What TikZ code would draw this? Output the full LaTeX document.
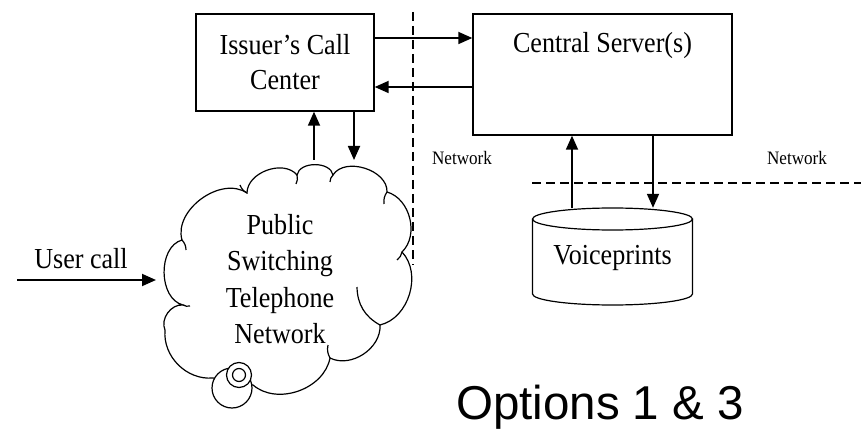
\documentclass[tikz,border=0pt]{standalone}
\usepackage{fontspec}
\setmainfont{Liberation Serif}[FakeStretch=0.9]
\setsansfont{Liberation Sans}
\usetikzlibrary{arrows.meta, calc}

\begin{document}
\begin{tikzpicture}[x=1pt, y=-1pt,
  box/.style={draw, line width=1.4pt, inner sep=0pt},
  arr/.style={line width=1.8pt, -{Triangle[length=14pt, width=12pt]}},
  netline/.style={line width=1.8pt, dash pattern=on 9pt off 5pt},
  lbl/.style={font=\fontsize{29}{35}\selectfont, align=center, inner sep=0pt},
  small/.style={font=\fontsize{19}{20}\selectfont, inner sep=0pt},
  outline/.style={line width=1.2pt}]

  % --- FRAME ---
  \useasboundingbox (0,0) rectangle (861,430);

  % --- BOXES ---
  \node[box, minimum width=178pt, minimum height=97pt] (issuer) at (285,62.5) {};
  \node[lbl] (issuertxt) at (issuer.center) {Issuer’s Call\\Center};

  \node[box, minimum width=259pt, minimum height=121pt] (server) at (602.5,74.5) {};
  \node[lbl] (servertxt) at (602.5,46) {Central Server(s)};

  % --- DATABASE ---
  \node[minimum width=160pt, minimum height=97pt, inner sep=0pt] (voice) at (612.5,256.5) {};
  \draw[outline] (532.5,219) -- (532.5,294)
    arc[start angle=180, end angle=0, x radius=80, y radius=11] -- (692.5,219);
  \draw[outline] (612.5,219) ellipse [x radius=80, y radius=11];
  \node[lbl] (voicetxt) at (612.5,258) {Voiceprints};

  % --- CLOUD (PSTN) ---
  \draw[outline, fill=white]
    (183,305) to[bend left=75] (182,240) to[bend left=70] (247,193)
    to[bend left=70] (297,175) to[bend left=80] (333,175)
    to[bend left=75] (387,192) to[bend left=60] (402,252)
    to[bend left=60] (380,325) to[bend left=60] (330,358)
    to[bend left=60] (253,385) -- (213,378)
    to[bend left=50] (165,330) to[bend left=60] cycle;
  % little tails of the puffs
  \draw[outline] (247,193) to[bend left=20] (240,185);
  \draw[outline] (297,175) to[bend left=20] (296,184);
  \draw[outline] (333,175) to[bend right=20] (330,182);
  \draw[outline] (387,192) to[bend right=20] (384,204);
  \draw[outline] (402,252) to[bend left=20] (397,260);
  \draw[outline] (380,325) to[bend left=30] (357,287);
  \draw[outline] (330,358) to[bend left=20] (328,345);
  \draw[outline] (183,305) to[bend right=20] (190,306);
  \draw[outline] (182,240) to[bend left=20] (186,250);
  % small bubble with the handset ring
  \draw[outline, fill=white] (232,388) circle (20);
  \draw[outline, fill=white] (239,375) circle (12.5);
  \draw[outline] (239,375) circle (6.5);
  \node[lbl, font=\fontsize{29}{36.5}\selectfont] (pstn) at (280,279) {Public\\Switching\\Telephone\\Network};

  % anchor points on the cloud
  \coordinate (pstnUp) at (314,160);
  \coordinate (pstnDn) at (354,160);
  \coordinate (pstnW) at (156,280);
  \coordinate (user) at (17,280);

  % --- USER CALL ---
  \node[lbl] (usertxt) at (81,259) {User call};
  \draw[arr] (user) -- (pstnW);

  % --- CONNECTIONS ---
  \draw[arr] ([yshift=24.5pt]issuer.east) -- ([yshift=24.5pt]issuer.east -| server.west);
  \draw[arr] ([yshift=-24.5pt]issuer.east -| server.west) -- ([yshift=-24.5pt]issuer.east);
  \draw[arr] (pstnUp) -- (pstnUp |- issuer.south);
  \draw[arr] (pstnDn |- issuer.south) -- (pstnDn);
  \draw[arr] ([xshift=-40.5pt]voice.north) -- ([xshift=-30.5pt]server.south);
  \draw[arr] ([xshift=50.5pt]server.south) -- ([xshift=40.5pt]voice.north);

  % --- NETWORK BOUNDARIES ---
  \coordinate (vtop) at (413,12);
  \coordinate (vbot) at (413,265);
  \coordinate (hleft) at (532,183);
  \coordinate (hright) at (861,183);
  \draw[netline] (vtop) -- (vbot);
  \draw[netline] (hleft) -- (hright);
  \node[small] (netA) at (462,158) {Network};
  \node[small] (netB) at (797,158) {Network};

  % --- TITLE ---
  \node[font=\sffamily\fontsize{47.5}{50}\selectfont, anchor=base, inner sep=0pt] (title) at (600,419) {Options 1 \& 3};

\end{tikzpicture}
\end{document}
